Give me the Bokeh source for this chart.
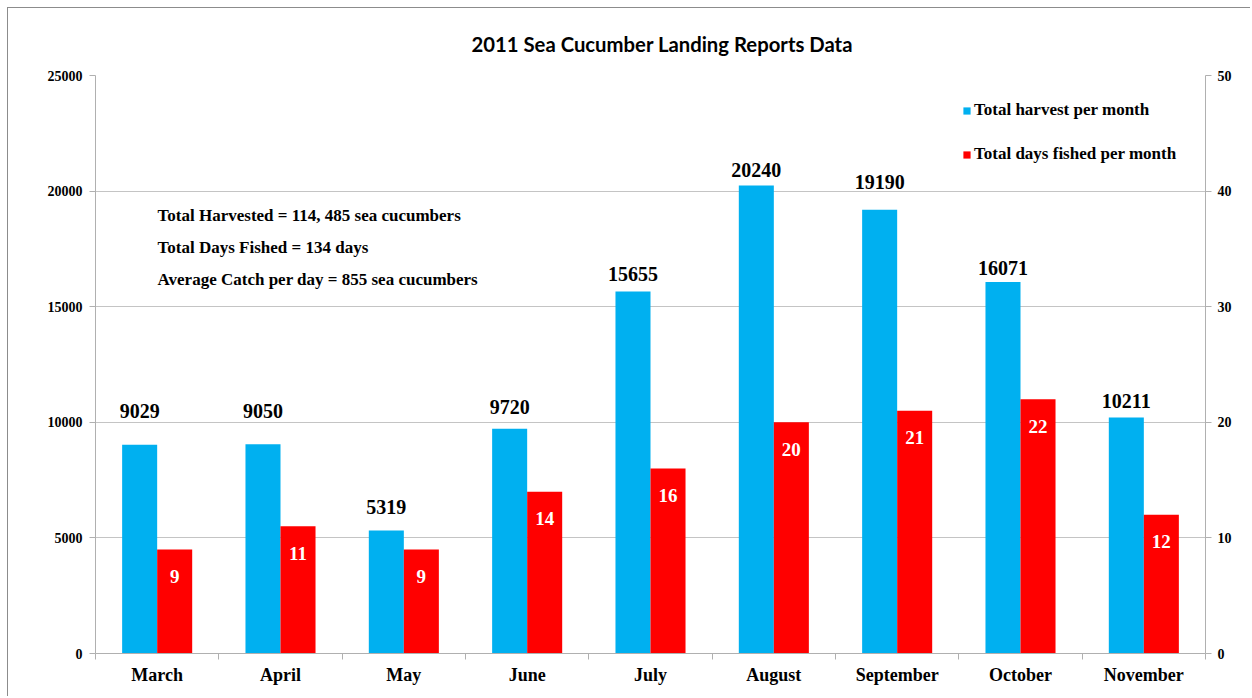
import numpy as np
from bokeh.plotting import figure
from bokeh.models import (Range1d, LinearAxis, FixedTicker, ColumnDataSource, Label)
from bokeh.core.properties import value
from bokeh.embed import file_html
from bokeh.resources import INLINE

# ---- data ----
months = ["March", "April", "May", "June", "July", "August", "September", "October", "November"]
harvest = [9029, 9050, 5319, 9720, 15655, 20240, 19190, 16071, 10211]
days_fished = [9, 11, 9, 14, 16, 20, 21, 22, 12]
left_ticks = [0, 5000, 10000, 15000, 20000, 25000]
right_ticks = [0, 10, 20, 30, 40, 50]
summary_lines = [
    "Total Harvested = 114, 485 sea cucumbers",
    "Total Days Fished = 134 days",
    "Average Catch per day = 855 sea cucumbers",
]
title_text = "2011 Sea Cucumber Landing Reports Data"

# ---- style ----
BLUE = "#00B0F0"
RED = "#FF0000"
GRID = "#c4c4c4"
AXIS = "#b0b0b0"
SERIF = "Liberation Serif"
bar_w = 0.284
# pixel offsets of the harvest labels above their bars (manual placement in the original)
harvest_label_dy = [34, 33, 24, 22, 18, 16, 28, 14, 16]

idx = np.arange(len(months))
centers = idx + 0.5

p = figure(width=1243, height=689, output_backend="svg", toolbar_location=None,
           x_range=Range1d(0, len(months)), y_range=Range1d(0, 25000),
           min_border_left=87, min_border_right=46, min_border_top=67, min_border_bottom=44)
p.extra_y_ranges = {"days": Range1d(0, 50)}
p.outline_line_color = None
p.styles = {"margin-left": "7px", "margin-top": "7px",
            "border-top": "1px solid #8c8c8c", "border-left": "1px solid #8c8c8c"}

p.title.text = title_text
p.title.align = "left"
p.title.offset = 376
p.title.text_font = "Lato"
p.title.text_font_size = "20.3px"
p.title.text_font_style = "bold"
p.title.text_color = "#000000"
p.title.standoff = 40

src_h = ColumnDataSource(dict(x=centers - bar_w / 2, top=harvest,
                              lab=[str(v) for v in harvest], dy=[-d for d in harvest_label_dy]))
src_d = ColumnDataSource(dict(x=centers + bar_w / 2, top=days_fished,
                              lab=[str(v) for v in days_fished]))

p.vbar(x="x", top="top", width=bar_w, source=src_h, fill_color=BLUE, line_color=None,
       legend_label="Total harvest per month")
p.vbar(x="x", top="top", width=bar_w, source=src_d, fill_color=RED, line_color=None,
       y_range_name="days", legend_label="Total days fished per month")

p.text(x="x", y="top", text="lab", source=src_h, y_offset="dy",
       text_align="center", text_baseline="middle", text_font=value(SERIF),
       text_font_style="bold", text_font_size="20px", text_color="black")
p.text(x="x", y="top", text="lab", source=src_d, y_offset=27, y_range_name="days",
       text_align="center", text_baseline="middle", text_font=value(SERIF),
       text_font_style="bold", text_font_size="19px", text_color="white")

# summary text block
for i, line in enumerate(summary_lines):
    p.add_layout(Label(x=0.503, y=18945 - i * 1384, text=line, text_baseline="middle",
                       text_align="left", text_font=SERIF, text_font_style="bold",
                       text_font_size="17px", text_color="black"))

# axes
p.xaxis.ticker = FixedTicker(ticks=list(centers), minor_ticks=list(np.arange(len(months) + 1)))
p.xaxis.major_label_overrides = {float(c): m for c, m in zip(centers, months)}
p.xaxis.major_tick_line_color = None
p.xaxis.major_tick_out = 0
p.xaxis.major_tick_in = 0
p.xaxis.minor_tick_in = 0
p.xaxis.minor_tick_out = 6
p.xaxis.minor_tick_line_color = AXIS
p.xaxis.axis_line_color = AXIS
p.xaxis.major_label_standoff = 5
p.xaxis.major_label_text_font = SERIF
p.xaxis.major_label_text_font_style = "bold"
p.xaxis.major_label_text_font_size = "18px"
p.xaxis.major_label_text_color = "black"

p.yaxis.ticker = FixedTicker(ticks=left_ticks)
p.yaxis.axis_line_color = AXIS
p.yaxis.major_tick_line_color = AXIS
p.yaxis.major_tick_in = 0
p.yaxis.major_tick_out = 6
p.yaxis.minor_tick_line_color = None
p.yaxis.major_label_standoff = 7
p.yaxis.major_label_text_font = SERIF
p.yaxis.major_label_text_font_style = "bold"
p.yaxis.major_label_text_font_size = "14px"
p.yaxis.major_label_text_color = "black"

ry = LinearAxis(y_range_name="days", ticker=FixedTicker(ticks=right_ticks))
ry.axis_line_color = AXIS
ry.major_tick_line_color = AXIS
ry.major_tick_in = 0
ry.major_tick_out = 6
ry.minor_tick_line_color = None
ry.major_label_standoff = 6
ry.major_label_text_font = SERIF
ry.major_label_text_font_style = "bold"
ry.major_label_text_font_size = "14px"
ry.major_label_text_color = "black"
p.add_layout(ry, "right")

p.xgrid.grid_line_color = None
p.ygrid.ticker = FixedTicker(ticks=left_ticks)
p.ygrid.grid_line_color = GRID

lg = p.legend[0]
lg.location = (867, 489)
lg.padding = 0
lg.margin = 0
lg.spacing = 24
lg.label_height = 20
lg.glyph_height = 9
lg.glyph_width = 9
lg.label_standoff = 3
lg.border_line_color = None
lg.background_fill_alpha = 0
lg.label_text_font = SERIF
lg.label_text_font_style = "bold"
lg.label_text_font_size = "17px"
lg.label_text_color = "black"

open("out.html", "w").write(file_html(p, INLINE))
